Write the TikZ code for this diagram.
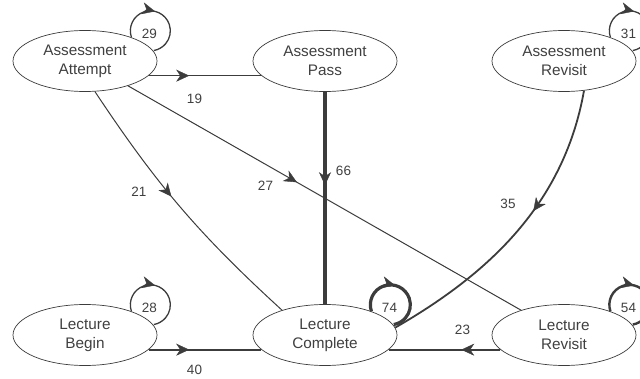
\documentclass[tikz,border=0pt]{standalone}
\usepackage{fontspec}
\setmainfont{Liberation Sans}
\usetikzlibrary{shapes.geometric,arrows.meta,decorations.markings}
\definecolor{ln}{HTML}{3C3C3C}
\definecolor{tx}{HTML}{404040}
\begin{document}
\begin{tikzpicture}[x=1pt,y=1pt,
  state/.style={ellipse,draw=ln,line width=0.7pt,fill=white,minimum width=144pt,minimum height=61pt,inner sep=0pt,align=center,font=\fontsize{15.3}{19}\selectfont,text=tx},
  lbl/.style={font=\fontsize{13.5}{16}\selectfont,text=tx,inner sep=0pt},
  flow/.style={color=ln,decoration={markings,mark=at position #1 with {\arrow{Stealth[length=13pt,width=12pt,inset=4pt,line width=0.4pt]}}},postaction={decorate}},
  flow/.default=0.42]
\useasboundingbox (0,0) rectangle (640,378);
\node[state] (att) at (85,317) {Assessment\\Attempt};
\node[state] (pass) at (325,317) {Assessment\\Pass};
\node[state] (arev) at (564,317) {Assessment\\Revisit};
\node[state] (beg) at (85,43) {Lecture\\Begin};
\node[state] (comp) at (325,43) {Lecture\\Complete};
\node[state] (lrev) at (564,43) {Lecture\\Revisit};
% self loops
\draw[flow=0.44, line width=1.3pt] (att.27) arc[start angle=199, end angle=-80, radius=20];
\draw[flow=0.44, line width=1.3pt] (arev.27) arc[start angle=199, end angle=-80, radius=20];
\draw[flow=0.44, line width=1.3pt] (beg.27) arc[start angle=199, end angle=-80, radius=20];
\draw[flow=0.44, line width=3.2pt] (comp.27) arc[start angle=199, end angle=-80, radius=20];
\draw[flow=0.44, line width=2.4pt] (lrev.27) arc[start angle=199, end angle=-80, radius=20];
% edges
\draw[flow=0.36, line width=1.1pt] (att.-13) -- (pass.193);
\draw[flow=0.36, line width=2pt] (beg.-13) -- (comp.193);
\draw[flow=0.35, line width=1.8pt] (lrev.193) -- (comp.-13);
\draw[flow=0.44, line width=4.3pt] (pass.south) -- (comp.north);
\draw[flow=0.45, line width=1pt] (att.-72) to[bend right=7] (comp.150);
\draw[flow=0.43, line width=1pt] (att.-30) -- (lrev.150);
\draw[flow=0.42, line width=1.8pt] (arev.-56) .. controls +(-100:120) and +(30:100) .. (comp.6.5);
% labels
\node[lbl] (l29) at (149.5,344) {29};
\node[lbl] (l31) at (628.5,344) {31};
\node[lbl] (l28) at (149.5,70) {28};
\node[lbl] (l74) at (389.5,70) {74};
\node[lbl] (l54) at (628.5,70) {54};
\node[lbl] (l19) at (194.5,279) {19};
\node[lbl] (l40) at (194.5,8) {40};
\node[lbl] (l23) at (462.5,48) {23};
\node[lbl] (l66) at (343.5,207) {66};
\node[lbl] (l21) at (139,186) {21};
\node[lbl] (l27) at (265.5,192.5) {27};
\node[lbl] (l35) at (508,174) {35};
\end{tikzpicture}
\end{document}
